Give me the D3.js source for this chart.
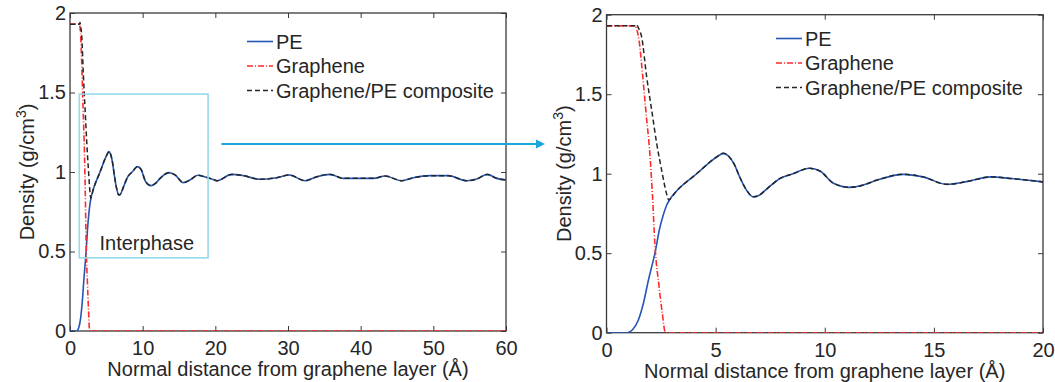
<!DOCTYPE html>
<html>
<head>
<meta charset="utf-8">
<script src="https://cdn.jsdelivr.net/npm/d3@7"></script>
<style>
  html, body { margin: 0; padding: 0; background: #fff; }
  svg { display: block; }
  text { font-family: "Liberation Sans", Arial, Helvetica, sans-serif; fill: #262626; }
</style>
</head>
<body>
<svg id="chart" width="1055" height="382"></svg>
<script>
// ---------------- data ----------------
const peDistance = [0, 0.95, 1.05, 1.2, 1.46, 1.7, 1.92, 2.08, 2.22, 2.42, 2.6, 2.75, 2.91, 3.2, 3.5, 4.0, 4.3, 4.75, 5.1, 5.35, 5.6, 5.85, 6.1, 6.4, 6.72, 7.0, 7.35, 7.95, 8.55, 9.3, 9.8, 10.4, 11.15, 11.8, 12.4, 13.6, 14.5, 15.6, 16.5, 17.6, 18.5, 19.9, 20.2, 22.25, 23.85, 26.15, 28.45, 30.18, 32.34, 33.95, 35.78, 37.6, 39.9, 41.74, 43.35, 45.64, 47.24, 49.54, 52.06, 54.6, 55.97, 57.43, 58.72, 60];
const peDensity  = [0, 0, 0.004, 0.02, 0.08, 0.19, 0.33, 0.42, 0.5, 0.646, 0.74, 0.8, 0.84, 0.89, 0.93, 0.985, 1.02, 1.075, 1.11, 1.128, 1.11, 1.06, 0.98, 0.9, 0.855, 0.865, 0.905, 0.97, 1.0, 1.034, 1.015, 0.94, 0.914, 0.93, 0.96, 0.996, 0.98, 0.933, 0.95, 0.98, 0.97, 0.95, 0.945, 0.985, 0.977, 0.954, 0.964, 0.981, 0.945, 0.97, 0.985, 0.96, 0.96, 0.96, 0.975, 0.945, 0.964, 0.977, 0.977, 0.945, 0.956, 0.985, 0.96, 0.95];

const grapheneDistance = [0, 1.3, 1.4, 1.5, 1.6, 1.8, 2.0, 2.1, 2.22, 2.4, 2.55, 2.7, 60];
const grapheneDensity  = [1.93, 1.93, 1.9, 1.83, 1.7, 1.4, 1.1, 0.88, 0.55, 0.3, 0.13, 0, 0];

// composite head (before it merges with the PE curve)
const compositeDistance = [0, 1.3, 1.38, 1.45, 1.61, 1.84, 2.07, 2.30, 2.53, 2.76, 2.85];
const compositeDensity  = [1.93, 1.93, 1.94, 1.92, 1.86, 1.61, 1.40, 1.19, 1.02, 0.87, 0.835];

const seriesNames = ["PE", "Graphene", "Graphene/PE composite"];
const leftXTicks = [0, 10, 20, 30, 40, 50, 60];
const rightXTicks = [0, 5, 10, 15, 20];
const yTicks = [0, 0.5, 1, 1.5, 2];
const interphaseBox = { x0: 1.28, x1: 19.0, y0: 0.46, y1: 1.49 };
const interphaseLabel = "Interphase";

// ---------------- build tables ----------------
const pe = peDistance.map((d, i) => ({ x: d, y: peDensity[i] }));
const graphene = grapheneDistance.map((d, i) => ({ x: d, y: grapheneDensity[i] }));
const composite = compositeDistance.map((d, i) => ({ x: d, y: compositeDensity[i] }))
  .concat(pe.filter(p => p.x >= 2.91));

const styles = [
  { color: "#2456b4", dash: null, width: 1.6 },
  { color: "#ff2a2a", dash: "6,2,1,2", width: 1.6 },
  { color: "#262626", dash: "5,3", width: 1.5 }
];
const data = [pe, graphene, composite];

const svg = d3.select("#chart");
const axisColor = "#3a3a3a";

function panel(cfg, idx) {
  const x = d3.scaleLinear().domain([0, cfg.xmax]).range([cfg.left, cfg.right]);
  const y = d3.scaleLinear().domain([0, 2]).range([cfg.bottom, cfg.top]);
  const g = svg.append("g");

  const clipId = "clip" + idx;
  svg.append("defs").append("clipPath").attr("id", clipId)
    .append("rect").attr("x", cfg.left).attr("y", cfg.top)
    .attr("width", cfg.right - cfg.left).attr("height", cfg.bottom - cfg.top);

  // axes with inward ticks
  const tl = 5;
  const xb = g.append("g").attr("transform", `translate(0,${cfg.bottom})`)
    .call(d3.axisBottom(x).tickValues(cfg.xticks).tickSizeInner(-tl).tickSizeOuter(0).tickPadding(10).tickFormat(d3.format("d")));
  const xt = g.append("g").attr("transform", `translate(0,${cfg.top})`)
    .call(d3.axisTop(x).tickValues(cfg.xticks).tickSizeInner(-tl).tickSizeOuter(0).tickFormat(""));
  const yl = g.append("g").attr("transform", `translate(${cfg.left},0)`)
    .call(d3.axisLeft(y).tickValues(yTicks).tickSizeInner(-tl).tickSizeOuter(0).tickPadding(4).tickFormat(d3.format("")));
  const yr = g.append("g").attr("transform", `translate(${cfg.right},0)`)
    .call(d3.axisRight(y).tickValues(yTicks).tickSizeInner(-tl).tickSizeOuter(0).tickFormat(""));
  [xb, xt, yl, yr].forEach(a => {
    a.select(".domain").remove();
    a.selectAll("line").attr("stroke", axisColor).attr("stroke-width", 1);
    a.selectAll("text").attr("font-size", 20).attr("fill", "#262626")
      .attr("font-family", '"Liberation Sans", Arial, sans-serif');
  });
  xb.selectAll("text").attr("dy", "0.71em");

  // box
  g.append("rect").attr("x", cfg.left).attr("y", cfg.top)
    .attr("width", cfg.right - cfg.left).attr("height", cfg.bottom - cfg.top)
    .attr("fill", "none").attr("stroke", axisColor).attr("stroke-width", 1.3);

  // lines
  const line = d3.line().x(d => x(d.x)).y(d => y(d.y)).curve(d3.curveMonotoneX);
  const lg = g.append("g").attr("clip-path", `url(#${clipId})`);
  data.forEach((s, i) => {
    lg.append("path").datum(s).attr("d", line)
      .attr("fill", "none").attr("stroke", styles[i].color)
      .attr("stroke-width", styles[i].width)
      .attr("stroke-dasharray", styles[i].dash);
  });

  // legend
  seriesNames.forEach((n, i) => {
    const yy = cfg.legendY + i * 24.5;
    g.append("line").attr("x1", cfg.legendX).attr("x2", cfg.legendX + 26)
      .attr("y1", yy).attr("y2", yy)
      .attr("stroke", styles[i].color).attr("stroke-width", styles[i].width)
      .attr("stroke-dasharray", styles[i].dash);
    g.append("text").attr("x", cfg.legendX + 29).attr("y", yy + 7)
      .attr("font-size", 20).text(n);
  });

  // axis titles
  g.append("text").attr("x", (cfg.left + cfg.right) / 2).attr("y", cfg.bottom + 45)
    .attr("text-anchor", "middle").attr("font-size", 20)
    .text("Normal distance from graphene layer (Å)");
  const yt = g.append("text")
    .attr("transform", `translate(${cfg.left - 36},${(cfg.top + cfg.bottom) / 2}) rotate(-90)`)
    .attr("text-anchor", "middle").attr("font-size", 20);
  yt.append("tspan").text("Density (g/cm");
  yt.append("tspan").attr("dy", -8).attr("font-size", 14).text("3");
  yt.append("tspan").attr("dy", 8).text(")");

  return { x, y, g };
}

const L = panel({ left: 70, right: 506, top: 13, bottom: 331, xmax: 60, xticks: leftXTicks, legendX: 247, legendY: 41.5 }, 0);
const R = panel({ left: 606.5, right: 1043, top: 14.7, bottom: 332.7, xmax: 20, xticks: rightXTicks, legendX: 776, legendY: 38.5 }, 1);

// interphase box
L.g.append("rect")
  .attr("x", L.x(interphaseBox.x0)).attr("y", L.y(interphaseBox.y1))
  .attr("width", L.x(interphaseBox.x1) - L.x(interphaseBox.x0))
  .attr("height", L.y(interphaseBox.y0) - L.y(interphaseBox.y1))
  .attr("fill", "none").attr("stroke", "#96d9e8").attr("stroke-width", 1.6);
L.g.append("text").attr("x", 99.5).attr("y", 249.5).attr("font-size", 20).text(interphaseLabel);

// arrow
svg.append("line").attr("x1", 221.5).attr("x2", 538).attr("y1", 144).attr("y2", 144)
  .attr("stroke", "#19a6e0").attr("stroke-width", 2);
svg.append("path").attr("d", "M536,139.5 L545,144 L536,148.5 Z").attr("fill", "#19a6e0");
</script>
</body>
</html>
